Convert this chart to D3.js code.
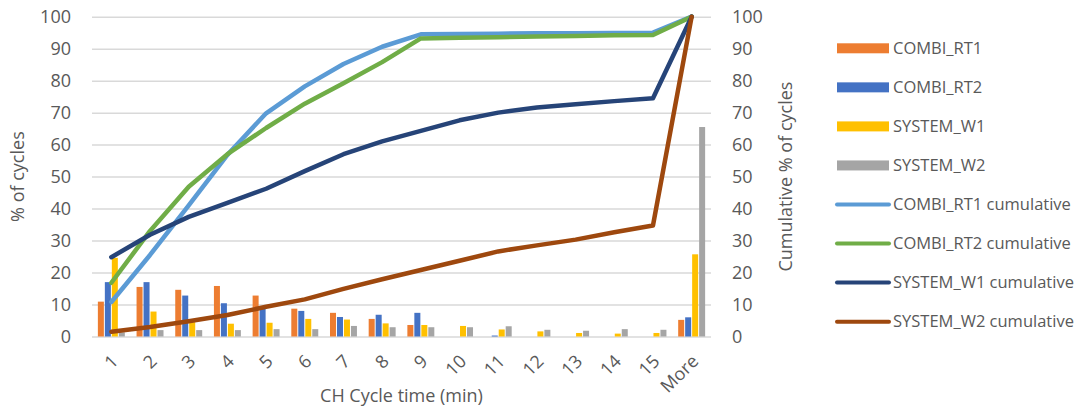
<!DOCTYPE html>
<html>
<head>
<meta charset="utf-8">
<script src="https://cdn.jsdelivr.net/npm/d3@7"></script>
<style>
  html, body { margin: 0; padding: 0; background: #fff; }
  svg { display: block; font-family: "Open Sans", "DejaVu Sans", sans-serif; }
</style>
</head>
<body>
<svg id="chart" width="1082" height="416"></svg>
<script>
// Cycle-time bins (minutes)
const categories = ["1","2","3","4","5","6","7","8","9","10","11","12","13","14","15","More"];

// Share of cycles per bin (%)
const combiRt1 = [10.9, 15.5, 14.6, 15.8, 12.8, 8.7, 7.4, 5.5, 3.6, 0, 0, 0, 0, 0, 0, 5.2];
const combiRt2 = [17.0, 17.0, 12.8, 10.4, 9.2, 8.0, 6.1, 6.8, 7.4, 0, 0.3, 0, 0, 0, 0, 6.0];
const systemW1 = [24.6, 7.8, 4.5, 4.0, 4.3, 5.5, 5.3, 4.1, 3.6, 3.3, 2.2, 1.6, 1.1, 0.9, 1.1, 25.7];
const systemW2 = [1.3, 2.0, 2.0, 2.0, 2.3, 2.3, 3.3, 2.9, 2.9, 2.9, 3.2, 2.1, 1.8, 2.3, 2.1, 65.5];

// Cumulative share of cycles (%)
const combiRt1Cum = [10.8, 25.5, 41.0, 56.8, 69.8, 78.2, 85.2, 90.6, 94.5, 94.6, 94.7, 94.8, 94.8, 94.9, 95.0, 100];
const combiRt2Cum = [16.8, 33.0, 46.8, 57.0, 65.2, 72.8, 79.2, 85.8, 93.2, 93.4, 93.6, 93.8, 94.0, 94.2, 94.3, 100];
const systemW1Cum = [24.8, 31.8, 37.4, 41.8, 46.2, 51.7, 57.0, 61.0, 64.3, 67.6, 70.0, 71.6, 72.6, 73.6, 74.5, 100];
const systemW2Cum = [1.5, 3.0, 4.8, 6.7, 9.3, 11.6, 14.9, 17.9, 20.8, 23.7, 26.6, 28.5, 30.3, 32.6, 34.7, 100];

// Axis ticks
const yTicks = [0, 10, 20, 30, 40, 50, 60, 70, 80, 90, 100];

const barSeries = [
  { name: "COMBI_RT1", values: combiRt1, color: "#ED7D31" },
  { name: "COMBI_RT2", values: combiRt2, color: "#4472C4" },
  { name: "SYSTEM_W1", values: systemW1, color: "#FFC000" },
  { name: "SYSTEM_W2", values: systemW2, color: "#A5A5A5" }
];
const lineSeries = [
  { name: "COMBI_RT1 cumulative", values: combiRt1Cum, color: "#5B9BD5" },
  { name: "COMBI_RT2 cumulative", values: combiRt2Cum, color: "#70AD47" },
  { name: "SYSTEM_W1 cumulative", values: systemW1Cum, color: "#264478" },
  { name: "SYSTEM_W2 cumulative", values: systemW2Cum, color: "#9E480E" }
];

const svg = d3.select("#chart");
const plot = { left: 92, right: 711, top: 16.7, bottom: 336.5 };
const textColor = "#595959";

const x0 = d3.scaleBand().domain(categories).range([plot.left, plot.right]).padding(0);
const x1 = d3.scaleBand().domain(barSeries.map(d => d.name))
  .range([0, x0.bandwidth()]).paddingInner(0.14).paddingOuter(0.84);
const yLeft = d3.scaleLinear().domain([0, 100]).range([plot.bottom, plot.top]);
const yRight = d3.scaleLinear().domain([0, 100]).range([plot.bottom, plot.top]);

// Horizontal gridlines
svg.append("g")
  .attr("transform", `translate(${plot.left},0)`)
  .call(d3.axisLeft(yLeft).tickValues(yTicks).tickSize(-(plot.right - plot.left)).tickFormat(""))
  .call(g => g.select(".domain").remove())
  .call(g => g.selectAll(".tick line").attr("stroke", "#d9d9d9").attr("stroke-width", 1.5));

// Left axis labels
svg.append("g")
  .attr("transform", `translate(${plot.left},0)`)
  .call(d3.axisLeft(yLeft).tickValues(yTicks).tickSize(0).tickPadding(21))
  .call(g => g.select(".domain").remove())
  .call(g => g.selectAll("text").attr("fill", textColor).attr("font-size", 18)
    .attr("font-family", '"Open Sans", sans-serif'));

// Right axis labels
svg.append("g")
  .attr("transform", `translate(${plot.right},0)`)
  .call(d3.axisRight(yRight).tickValues(yTicks).tickSize(0).tickPadding(21))
  .call(g => g.select(".domain").remove())
  .call(g => g.selectAll("text").attr("fill", textColor).attr("font-size", 18)
    .attr("font-family", '"Open Sans", sans-serif'));

// Category labels, rotated
svg.append("g").selectAll("text")
  .data(categories)
  .join("text")
  .attr("transform", d => `translate(${x0(d) + x0.bandwidth() / 2 - 1},${plot.bottom + 17}) rotate(-45)`)
  .attr("text-anchor", "end")
  .attr("dy", "0.7em")
  .attr("fill", textColor)
  .attr("font-size", 18)
  .text(d => d);

// Axis titles
svg.append("text")
  .attr("transform", `translate(24,${(plot.top + plot.bottom) / 2}) rotate(-90)`)
  .attr("text-anchor", "middle")
  .attr("fill", textColor).attr("font-size", 18)
  .text("% of cycles");
svg.append("text")
  .attr("transform", `translate(792,${(plot.top + plot.bottom) / 2}) rotate(-90)`)
  .attr("text-anchor", "middle")
  .attr("fill", textColor).attr("font-size", 18)
  .text("Cumulative % of cycles");
svg.append("text")
  .attr("x", (plot.left + plot.right) / 2)
  .attr("y", 402)
  .attr("text-anchor", "middle")
  .attr("fill", textColor).attr("font-size", 18)
  .text("CH Cycle time (min)");

// Clustered bars
const groups = svg.append("g").selectAll("g")
  .data(categories)
  .join("g")
  .attr("transform", d => `translate(${x0(d)},0)`);
groups.selectAll("rect")
  .data((d, i) => barSeries.map(s => ({ name: s.name, color: s.color, value: s.values[i] })))
  .join("rect")
  .attr("x", d => x1(d.name))
  .attr("width", x1.bandwidth())
  .attr("y", d => yLeft(d.value))
  .attr("height", d => yLeft(0) - yLeft(d.value))
  .attr("fill", d => d.color);

// Cumulative lines on the secondary axis
const line = d3.line()
  .x((d, i) => x0(categories[i]) + x0.bandwidth() / 2)
  .y(d => yRight(d));
svg.append("g").selectAll("path")
  .data(lineSeries)
  .join("path")
  .attr("d", d => line(d.values))
  .attr("fill", "none")
  .attr("stroke", d => d.color)
  .attr("stroke-width", 4.5)
  .attr("stroke-linejoin", "round")
  .attr("stroke-linecap", "round");

// Legend
const legendItems = [
  ...barSeries.map(s => ({ ...s, kind: "bar" })),
  ...lineSeries.map(s => ({ ...s, kind: "line" }))
];
const legend = svg.append("g").selectAll("g")
  .data(legendItems)
  .join("g")
  .attr("transform", (d, i) => `translate(837,${48.3 + i * 39.05})`);
legend.filter(d => d.kind === "bar").append("rect")
  .attr("x", 0).attr("y", -5).attr("width", 52).attr("height", 10)
  .attr("fill", d => d.color);
legend.filter(d => d.kind === "line").append("line")
  .attr("x1", 0).attr("x2", 52)
  .attr("stroke", d => d.color).attr("stroke-width", 4)
  .attr("stroke-linecap", "round");
legend.append("text")
  .attr("x", 56).attr("dy", "0.35em")
  .attr("fill", textColor).attr("font-size", 16.5)
  .text(d => d.name);
</script>
</body>
</html>
